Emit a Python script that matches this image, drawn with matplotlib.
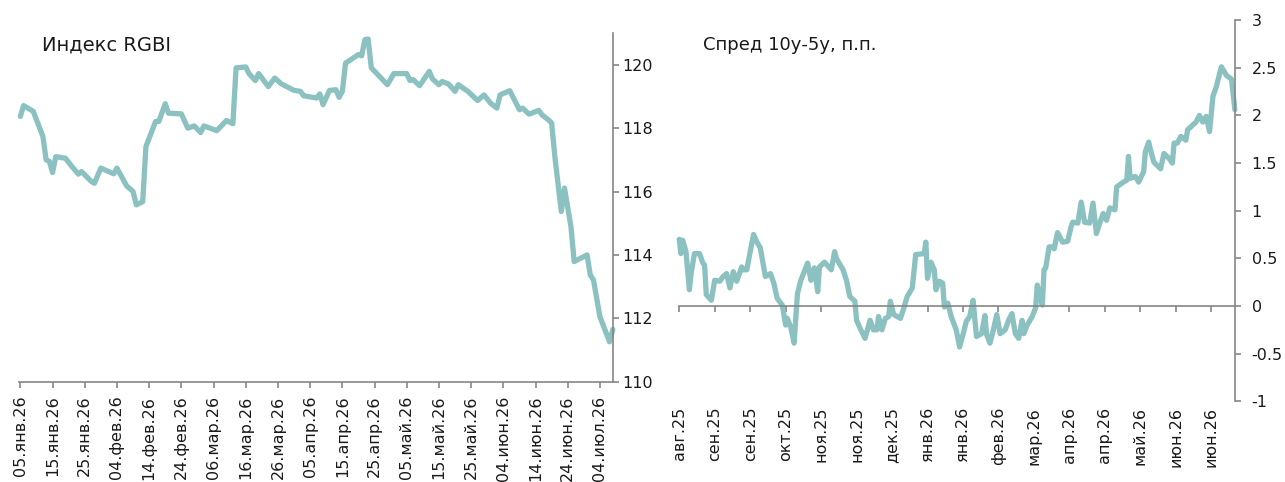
import matplotlib
matplotlib.use("Agg")
import matplotlib.pyplot as plt
import matplotlib.dates as mdates
import pandas as pd

# --- Индекс RGBI ---
rgbi_dates = [
    "2026-01-05", "2026-01-06", "2026-01-09", "2026-01-12", "2026-01-13", "2026-01-14",
    "2026-01-15", "2026-01-16", "2026-01-19", "2026-01-21", "2026-01-23", "2026-01-24",
    "2026-01-27", "2026-01-28", "2026-01-30", "2026-02-03", "2026-02-04", "2026-02-07",
    "2026-02-09", "2026-02-10", "2026-02-12", "2026-02-13", "2026-02-16", "2026-02-17",
    "2026-02-19", "2026-02-20", "2026-02-24", "2026-02-26", "2026-02-28", "2026-03-02",
    "2026-03-03", "2026-03-07", "2026-03-10", "2026-03-12", "2026-03-13", "2026-03-16",
    "2026-03-17", "2026-03-19", "2026-03-20", "2026-03-23", "2026-03-25", "2026-03-27",
    "2026-03-31", "2026-04-02", "2026-04-03", "2026-04-07", "2026-04-08", "2026-04-09",
    "2026-04-11", "2026-04-13", "2026-04-14", "2026-04-15", "2026-04-16", "2026-04-20",
    "2026-04-21", "2026-04-22", "2026-04-23", "2026-04-24", "2026-04-29", "2026-05-01",
    "2026-05-05", "2026-05-06", "2026-05-07", "2026-05-09", "2026-05-12", "2026-05-13",
    "2026-05-15", "2026-05-16", "2026-05-18", "2026-05-20", "2026-05-21", "2026-05-24",
    "2026-05-27", "2026-05-29", "2026-05-31", "2026-06-02", "2026-06-03", "2026-06-06",
    "2026-06-09", "2026-06-10", "2026-06-12", "2026-06-15", "2026-06-16", "2026-06-18",
    "2026-06-19", "2026-06-20", "2026-06-22", "2026-06-23", "2026-06-25", "2026-06-26",
    "2026-06-30", "2026-07-01", "2026-07-02", "2026-07-04", "2026-07-07", "2026-07-08",
]
rgbi_values = [
    118.37, 118.71, 118.53, 117.74, 117.00, 116.95,
    116.60, 117.10, 117.05, 116.79, 116.55, 116.63,
    116.32, 116.26, 116.74, 116.56, 116.74, 116.18,
    116.00, 115.58, 115.68, 117.42, 118.21, 118.21,
    118.77, 118.47, 118.45, 118.00, 118.07, 117.86,
    118.07, 117.92, 118.24, 118.14, 119.90, 119.93,
    119.72, 119.50, 119.72, 119.31, 119.58, 119.40,
    119.19, 119.16, 119.02, 118.95, 119.08, 118.74,
    119.19, 119.21, 118.97, 119.16, 120.05, 120.32,
    120.28, 120.79, 120.81, 119.90, 119.37, 119.72,
    119.72, 119.50, 119.53, 119.34, 119.79, 119.55,
    119.37, 119.47, 119.39, 119.16, 119.37, 119.16,
    118.87, 119.05, 118.79, 118.63, 119.05, 119.18,
    118.58, 118.63, 118.44, 118.56, 118.42, 118.26,
    118.16, 117.10, 115.37, 116.11, 114.89, 113.79,
    114.00, 113.37, 113.21, 112.05, 111.26, 111.65,
]
rgbi_tick_labels = [
    "05.янв.26", "15.янв.26", "25.янв.26", "04.фев.26", "14.фев.26", "24.фев.26",
    "06.мар.26", "16.мар.26", "26.мар.26", "05.апр.26", "15.апр.26", "25.апр.26",
    "05.май.26", "15.май.26", "25.май.26", "04.июн.26", "14.июн.26", "24.июн.26",
    "04.июл.26",
]
rgbi_yticks = [110, 112, 114, 116, 118, 120]

# --- Спред 10у-5у ---
spread_dates = [
    "2025-08-13", "2025-08-14", "2025-08-15", "2025-08-17", "2025-08-19", "2025-08-20",
    "2025-08-22", "2025-08-25", "2025-08-27", "2025-08-28", "2025-08-29", "2025-09-01",
    "2025-09-03", "2025-09-06", "2025-09-08", "2025-09-10", "2025-09-12", "2025-09-14",
    "2025-09-16", "2025-09-19", "2025-09-20", "2025-09-22", "2025-09-24", "2025-09-26",
    "2025-09-28", "2025-09-30", "2025-10-02", "2025-10-03", "2025-10-06", "2025-10-08",
    "2025-10-10", "2025-10-13", "2025-10-15", "2025-10-16", "2025-10-18", "2025-10-20",
    "2025-10-22", "2025-10-24", "2025-10-28", "2025-10-30", "2025-11-01", "2025-11-03",
    "2025-11-04", "2025-11-07", "2025-11-11", "2025-11-13", "2025-11-14", "2025-11-18",
    "2025-11-20", "2025-11-22", "2025-11-25", "2025-11-26", "2025-11-28", "2025-12-01",
    "2025-12-04", "2025-12-06", "2025-12-08", "2025-12-09", "2025-12-11", "2025-12-13",
    "2025-12-15", "2025-12-16", "2025-12-18", "2025-12-22", "2025-12-24", "2025-12-26",
    "2025-12-29", "2025-12-31", "2026-01-05", "2026-01-06", "2026-01-07", "2026-01-09",
    "2026-01-11", "2026-01-12", "2026-01-14", "2026-01-16", "2026-01-17", "2026-01-19",
    "2026-01-21", "2026-01-24", "2026-01-26", "2026-01-28", "2026-01-30", "2026-02-01",
    "2026-02-03", "2026-02-05", "2026-02-08", "2026-02-10", "2026-02-11", "2026-02-13",
    "2026-02-15", "2026-02-17", "2026-02-19", "2026-02-22", "2026-02-24", "2026-02-26",
    "2026-02-28", "2026-03-02", "2026-03-04", "2026-03-05", "2026-03-07", "2026-03-10",
    "2026-03-12", "2026-03-13", "2026-03-14", "2026-03-16", "2026-03-17", "2026-03-18",
    "2026-03-20", "2026-03-22", "2026-03-23", "2026-03-25", "2026-03-28", "2026-03-31",
    "2026-04-02", "2026-04-03", "2026-04-06", "2026-04-08", "2026-04-10", "2026-04-13",
    "2026-04-15", "2026-04-17", "2026-04-19", "2026-04-21", "2026-04-23", "2026-04-25",
    "2026-04-28", "2026-04-29", "2026-05-03", "2026-05-05", "2026-05-06", "2026-05-07",
    "2026-05-10", "2026-05-12", "2026-05-15", "2026-05-16", "2026-05-18", "2026-05-19",
    "2026-05-21", "2026-05-25", "2026-05-27", "2026-05-30", "2026-06-01", "2026-06-02",
    "2026-06-04", "2026-06-06", "2026-06-09", "2026-06-10", "2026-06-15", "2026-06-17",
    "2026-06-19", "2026-06-21", "2026-06-23", "2026-06-25", "2026-06-27", "2026-06-30",
    "2026-07-03", "2026-07-06", "2026-07-08",
]
spread_values = [
    0.70, 0.55, 0.69, 0.57, 0.17, 0.34,
    0.55, 0.55, 0.45, 0.43, 0.12, 0.06,
    0.27, 0.26, 0.31, 0.34, 0.19, 0.36,
    0.26, 0.41, 0.38, 0.38, 0.57, 0.75,
    0.67, 0.61, 0.41, 0.31, 0.34, 0.24,
    0.08, 0.01, -0.20, -0.13, -0.22, -0.39,
    0.13, 0.27, 0.45, 0.27, 0.40, 0.15,
    0.41, 0.46, 0.38, 0.57, 0.50, 0.38,
    0.27, 0.10, 0.05, -0.15, -0.23, -0.34,
    -0.15, -0.25, -0.25, -0.11, -0.25, -0.13,
    -0.11, 0.05, -0.09, -0.13, -0.02, 0.10,
    0.19, 0.54, 0.55, 0.67, 0.29, 0.46,
    0.38, 0.17, 0.26, 0.24, -0.01, 0.03,
    -0.11, -0.25, -0.43, -0.30, -0.16, -0.11,
    0.06, -0.32, -0.29, -0.10, -0.30, -0.39,
    -0.25, -0.09, -0.29, -0.25, -0.15, -0.08,
    -0.29, -0.34, -0.15, -0.29, -0.20, -0.11,
    -0.02, 0.22, 0.13, 0.01, 0.38, 0.40,
    0.62, 0.62, 0.60, 0.77, 0.67, 0.68,
    0.83, 0.88, 0.87, 1.09, 0.88, 0.87,
    1.08, 0.76, 0.87, 0.97, 0.90, 1.03,
    1.01, 1.25, 1.30, 1.32, 1.57, 1.34,
    1.36, 1.30, 1.41, 1.62, 1.72, 1.64,
    1.51, 1.44, 1.60, 1.55, 1.50, 1.71,
    1.71, 1.78, 1.74, 1.85, 1.93, 2.00,
    1.93, 1.99, 1.83, 2.20, 2.30, 2.51,
    2.42, 2.38, 2.06,
]
spread_tick_labels = [
    "авг.25", "сен.25", "сен.25", "окт.25", "ноя.25", "ноя.25", "дек.25", "янв.26",
    "янв.26", "фев.26", "мар.26", "апр.26", "апр.26", "май.26", "июн.26", "июн.26",
]
spread_yticks = [-1, -0.5, 0, 0.5, 1, 1.5, 2, 2.5, 3]

line_color = "#8bc1c1"
axis_color = "#868686"
text_color = "#1a1a1a"
fs = 11.5

plt.rcParams["font.family"] = ["DejaVu Sans"]

fig = plt.figure(figsize=(12.85, 4.82), dpi=100)

# left panel
ax1 = fig.add_axes([0.0148, 0.208, 0.4622, 0.7235])
ax1.plot(pd.to_datetime(rgbi_dates), rgbi_values, color=line_color, lw=3.8,
         solid_joinstyle="round", solid_capstyle="round", clip_on=False)
ax1.set_xlim(pd.Timestamp("2026-01-04 14:00"), pd.Timestamp("2026-07-08 01:00"))
ax1.set_ylim(110, 121)
ax1.set_xticks(pd.date_range("2026-01-05", periods=len(rgbi_tick_labels), freq="10D"))
ax1.set_xticklabels(rgbi_tick_labels, rotation=90, fontsize=fs, color=text_color)
ax1.set_yticks(rgbi_yticks)
ax1.set_yticklabels([str(v) for v in rgbi_yticks], fontsize=fs, color=text_color)
ax1.yaxis.tick_right()
for s in ["top", "left"]:
    ax1.spines[s].set_visible(False)
for s in ["right", "bottom"]:
    ax1.spines[s].set_color(axis_color)
    ax1.spines[s].set_linewidth(1.2)
ax1.tick_params(axis="both", direction="out", length=4, width=1.2, color=axis_color)
ax1.tick_params(axis="y", pad=3)
ax1.tick_params(axis="x", pad=6)
fig.text(42 / 1285, 1 - 45 / 482, "Индекс RGBI", fontsize=14, color=text_color, va="center")

# right panel
ax2 = fig.add_axes([0.5286, 0.1674, 0.4325, 0.7909])
ax2.plot(pd.to_datetime(spread_dates), spread_values, color=line_color, lw=3.8,
         solid_joinstyle="round", solid_capstyle="round", clip_on=False)
ax2.set_xlim(pd.Timestamp("2025-08-13"), pd.Timestamp("2026-07-08 02:00"))
ax2.set_ylim(-1, 3)
spread_ticks = pd.date_range("2025-08-13", periods=len(spread_tick_labels), freq="21D")
ax2.set_xticks(spread_ticks)
ax2.tick_params(axis="x", labelbottom=False, direction="out", length=4, width=1.2,
                color=axis_color)
ax2.spines["bottom"].set_position(("data", 0))
ax2.set_yticks(spread_yticks)
ax2.set_yticklabels([f"{v:g}" for v in spread_yticks], fontsize=fs, color=text_color)
ax2.yaxis.tick_right()
ax2.tick_params(axis="y", direction="out", length=4, width=1.2, color=axis_color, pad=8)
for s in ["top", "left"]:
    ax2.spines[s].set_visible(False)
for s in ["right", "bottom"]:
    ax2.spines[s].set_color(axis_color)
    ax2.spines[s].set_linewidth(1.2)

sec = ax2.secondary_xaxis("bottom")
sec.set_xticks(mdates.date2num(spread_ticks))
sec.set_xticklabels(spread_tick_labels, rotation=90, fontsize=fs, color=text_color)
sec.tick_params(length=0, pad=4)
sec.spines["bottom"].set_visible(False)

fig.text(703 / 1285, 1 - 45 / 482, "Спред 10у-5у, п.п.", fontsize=13, color=text_color,
         va="center")

fig.savefig("out.png", dpi=100, facecolor="white")
